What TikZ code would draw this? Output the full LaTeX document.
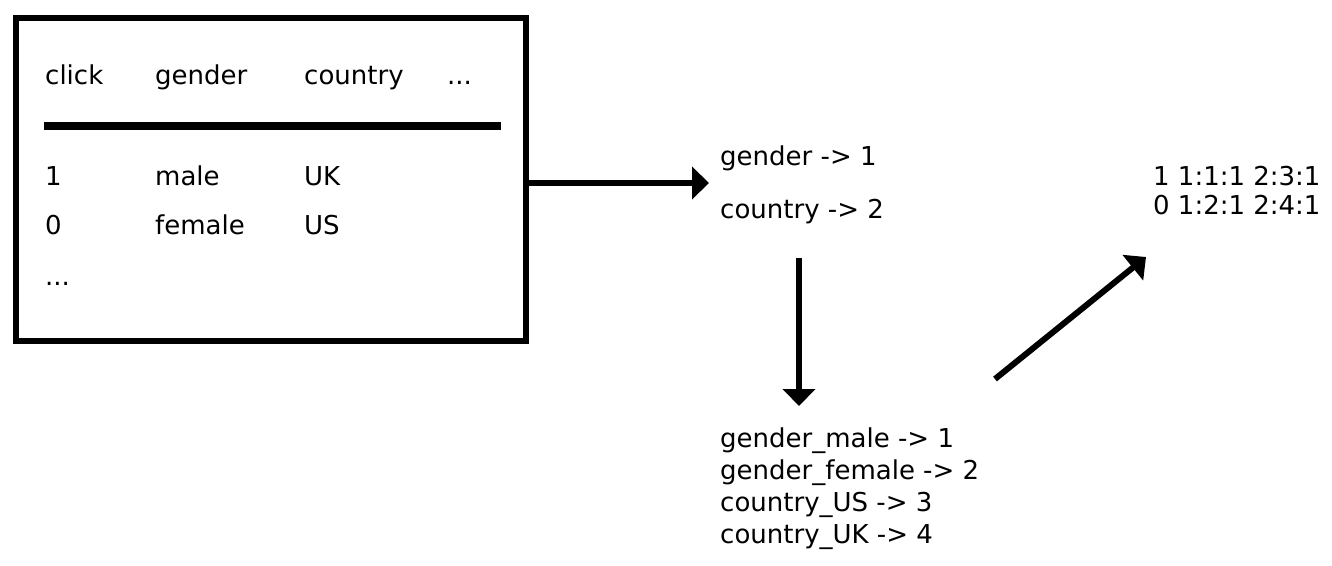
\documentclass[tikz,border=0pt]{standalone}
\usepackage{fontspec}
\setmainfont{DejaVu Sans}
\usetikzlibrary{arrows.meta,fit}
\begin{document}
\begin{tikzpicture}[x=1pt,y=-1pt,
  txt/.style={anchor=base west,inner sep=0pt,font=\fontsize{26}{30}\selectfont},
  arr/.style={line width=6pt,-{Triangle[length=17pt,width=32pt]}},
  thick6/.style={line width=6pt}]
\useasboundingbox (0,0) rectangle (1332,565);
% table box
\node[draw,thick6,minimum width=510pt,minimum height=323pt,inner sep=0pt] (tbl) at (271,179.5) {};
\node[txt] (h1) at (45,84) {click};
\node[txt] (h2) at (155,84) {gender};
\node[txt] (h3) at (304,84) {country};
\node[txt] (h4) at (447,84) {...};
\coordinate (hl1) at (44,125.5);
\coordinate (hl2) at (501,125.5);
\draw[line width=8pt] (hl1) -- (hl2);
\node[txt] (r11) at (45,185) {1};
\node[txt] (r12) at (155,185) {male};
\node[txt] (r13) at (304,185) {UK};
\node[txt] (r21) at (45,234) {0};
\node[txt] (r22) at (155,234) {female};
\node[txt] (r23) at (304,234) {US};
\node[txt] (r31) at (45,285) {...};
% field map
\node[txt] (m1) at (720,165) {gender -> 1};
\node[txt] (m2) at (720,218) {country -> 2};
\node[fit=(m1)(m2),inner sep=0pt] (map) {};
% feature map
\node[txt] (f1) at (720,447) {gender\_male -> 1};
\node[txt] (f2) at (720,479) {gender\_female -> 2};
\node[txt] (f3) at (720,511) {country\_US -> 3};
\node[txt] (f4) at (720,543) {country\_UK -> 4};
\node[fit=(f1)(f2)(f3)(f4),inner sep=0pt] (enc) {};
% output
\node[txt] (o1) at (1153,185) {1 1:1:1 2:3:1};
\node[txt] (o2) at (1153,214) {0 1:2:1 2:4:1};
% arrows
\coordinate (a1s) at (529,183);
\coordinate (a1e) at (709,183);
\draw[arr] (a1s) -- (a1e);
\coordinate (a2s) at (799,258);
\coordinate (a2e) at (799,406);
\draw[arr] (a2s) -- (a2e);
\coordinate (a3s) at (995,379);
\coordinate (a3e) at (1146,257);
\draw[arr] (a3s) -- (a3e);
\end{tikzpicture}
\end{document}
